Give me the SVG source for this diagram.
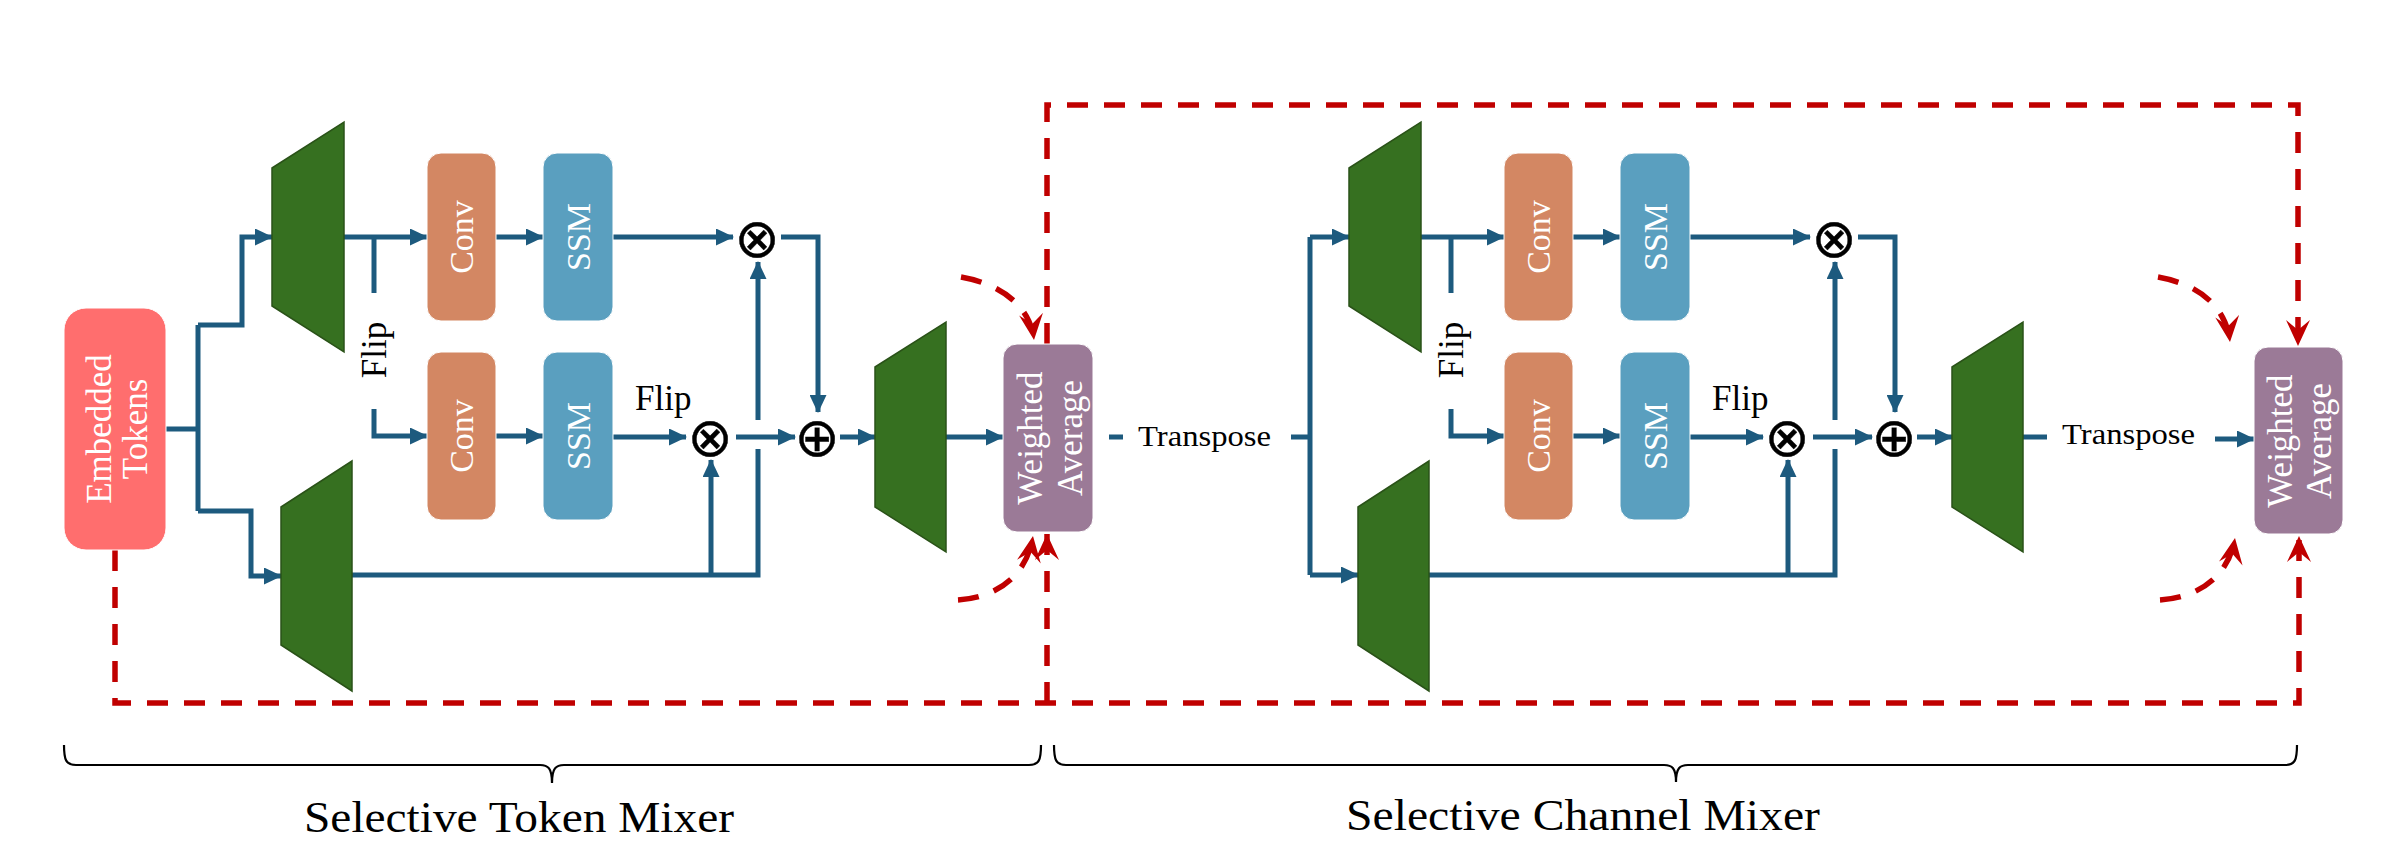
<svg xmlns="http://www.w3.org/2000/svg" width="2384" height="868" viewBox="0 0 2384 868">
<defs>
<marker id="ab" markerUnits="userSpaceOnUse" markerWidth="18" markerHeight="17" viewBox="0 0 18 17" refX="17" refY="8.5" orient="auto"><path d="M0,0 L18,8.5 L0,17 Z" fill="#1D5A7E"/></marker>
<marker id="ar" markerUnits="userSpaceOnUse" markerWidth="26" markerHeight="24" viewBox="0 0 26 24" refX="26" refY="12" orient="auto"><path d="M0,0 L26,12 L0,24 L10,12 Z" fill="#C00000"/></marker>
<style>
.bl{fill:none;stroke:#1D5A7E;stroke-width:5}
.ba{fill:none;stroke:#1D5A7E;stroke-width:5;marker-end:url(#ab)}
.ra{fill:none;stroke:#C00000;stroke-width:5.5;stroke-dasharray:21 16;marker-end:url(#ar)}
.tr{fill:#367020;stroke:#2A5218;stroke-width:1.5}
.bx{stroke:#fff;stroke-width:1}
.wt{fill:#fff;font-family:"Liberation Serif","DejaVu Serif",serif;text-anchor:middle}
.bk{fill:#000;font-family:"Liberation Serif","DejaVu Serif",serif}
.op{fill:#000;stroke:#000;stroke-width:0.4;font-family:"DejaVu Sans",sans-serif;font-size:54px;text-anchor:middle;dominant-baseline:central}
.br{fill:none;stroke:#000;stroke-width:2.2}
</style>
</defs>

<g id="connectors">
<!-- block 1 -->
<path class="bl" d="M166,429 H198 M198,325 V511"/>
<path class="ba" d="M198,325 H242 V237 H272"/>
<path class="ba" d="M198,511 H251 V576 H281"/>
<path class="ba" d="M344,237 H427"/>
<path class="bl" d="M374,237 V293"/>
<path class="ba" d="M374,409 V436 H427"/>
<path class="ba" d="M496,237 H543"/>
<path class="ba" d="M496,436 H543"/>
<path class="ba" d="M613,237 H733"/>
<path class="ba" d="M781,237 H818 V412"/>
<path class="ba" d="M613,437 H686"/>
<path class="ba" d="M736,437 H795"/>
<path class="ba" d="M840,437 H875"/>
<path class="bl" d="M352,575 H758 V449"/>
<path class="ba" d="M758,420 V262"/>
<path class="ba" d="M711,575 V460"/>
<path class="ba" d="M946,437 H1003"/>
<path class="bl" d="M1109,437 H1123 M1291,437 H1310 M1310,237 V575"/>
<!-- block 2 -->
<path class="ba" d="M1310,237 H1349"/>
<path class="ba" d="M1310,575 H1358"/>
<path class="ba" d="M1421,237 H1504"/>
<path class="bl" d="M1451,237 V293"/>
<path class="ba" d="M1451,409 V436 H1504"/>
<path class="ba" d="M1573,237 H1620"/>
<path class="ba" d="M1573,436 H1620"/>
<path class="ba" d="M1690,237 H1810"/>
<path class="ba" d="M1858,237 H1895 V412"/>
<path class="ba" d="M1690,437 H1763"/>
<path class="ba" d="M1813,437 H1872"/>
<path class="ba" d="M1917,437 H1952"/>
<path class="bl" d="M1429,575 H1835 V449"/>
<path class="ba" d="M1835,420 V262"/>
<path class="ba" d="M1788,575 V460"/>
<path class="bl" d="M2023,437 H2047"/>
<path class="ba" d="M2215,439 H2254"/>
<!-- red dashed residual paths -->
<path class="ra" d="M115,550 V703 H2299 V536"/>
<path class="ra" d="M1047,703 V534"/>
<path class="ra" d="M1047,344 V105 H2298 V346"/>
<path class="ra" d="M961,277 C1000,284 1030,305 1034,340"/>
<path class="ra" d="M958,600 C992,598 1026,580 1033,536"/>
<path class="ra" d="M2158,277 C2197,284 2226,305 2230,342"/>
<path class="ra" d="M2160,600 C2194,598 2228,580 2235,538"/>
</g>

<g id="embedded-tokens">
<rect class="bx" x="64" y="308" width="102" height="242" rx="22" fill="#FF6E6E"/>
<text class="wt" font-size="35" transform="translate(111,429) rotate(-90)">Embedded</text>
<text class="wt" font-size="35" transform="translate(147,429) rotate(-90)">Tokens</text>
</g>

<g id="proj-in-top-1"><polygon class="tr" points="272,168 344,122 344,352 272,306"/></g>
<g id="proj-in-bot-1"><polygon class="tr" points="281,507 352,461 352,691 281,645"/></g>
<g id="conv-top-1"><rect class="bx" x="427" y="153" width="69" height="168" rx="14" fill="#D38763"/><text class="wt" font-size="34" transform="translate(473,237) rotate(-90)">Conv</text></g>
<g id="ssm-top-1"><rect class="bx" x="543" y="153" width="70" height="168" rx="14" fill="#5A9FBF"/><text class="wt" font-size="34" transform="translate(590,237) rotate(-90)">SSM</text></g>
<g id="conv-bot-1"><rect class="bx" x="427" y="352" width="69" height="168" rx="14" fill="#D38763"/><text class="wt" font-size="34" transform="translate(473,436) rotate(-90)">Conv</text></g>
<g id="ssm-bot-1"><rect class="bx" x="543" y="352" width="70" height="168" rx="14" fill="#5A9FBF"/><text class="wt" font-size="34" transform="translate(590,436) rotate(-90)">SSM</text></g>
<g id="flip-v-1"><text class="bk" font-size="35" text-anchor="middle" transform="translate(386,350) rotate(-90)">Flip</text></g>
<g id="flip-h-1"><text class="bk" font-size="35" x="635" y="410">Flip</text></g>
<g id="mul-top-1"><text class="op" x="757" y="238">⊗</text></g>
<g id="mul-bot-1"><text class="op" x="710" y="437">⊗</text></g>
<g id="add-1"><text class="op" x="817" y="437">⊕</text></g>
<g id="proj-out-1"><polygon class="tr" points="875,367 946,322 946,552 875,507"/></g>
<g id="weighted-average-1">
<rect class="bx" x="1003" y="344" width="90" height="188" rx="14" fill="#9B7A97"/>
<text class="wt" font-size="35" transform="translate(1042,438) rotate(-90)">Weighted</text>
<text class="wt" font-size="35" transform="translate(1082,438) rotate(-90)">Average</text>
</g>
<g id="transpose-1"><text class="bk" font-size="30" x="1138" y="446" textLength="133" lengthAdjust="spacingAndGlyphs">Transpose</text></g>

<g id="proj-in-top-2"><polygon class="tr" points="1349,168 1421,122 1421,352 1349,306"/></g>
<g id="proj-in-bot-2"><polygon class="tr" points="1358,507 1429,461 1429,691 1358,645"/></g>
<g id="conv-top-2"><rect class="bx" x="1504" y="153" width="69" height="168" rx="14" fill="#D38763"/><text class="wt" font-size="34" transform="translate(1550,237) rotate(-90)">Conv</text></g>
<g id="ssm-top-2"><rect class="bx" x="1620" y="153" width="70" height="168" rx="14" fill="#5A9FBF"/><text class="wt" font-size="34" transform="translate(1667,237) rotate(-90)">SSM</text></g>
<g id="conv-bot-2"><rect class="bx" x="1504" y="352" width="69" height="168" rx="14" fill="#D38763"/><text class="wt" font-size="34" transform="translate(1550,436) rotate(-90)">Conv</text></g>
<g id="ssm-bot-2"><rect class="bx" x="1620" y="352" width="70" height="168" rx="14" fill="#5A9FBF"/><text class="wt" font-size="34" transform="translate(1667,436) rotate(-90)">SSM</text></g>
<g id="flip-v-2"><text class="bk" font-size="35" text-anchor="middle" transform="translate(1463,350) rotate(-90)">Flip</text></g>
<g id="flip-h-2"><text class="bk" font-size="35" x="1712" y="410">Flip</text></g>
<g id="mul-top-2"><text class="op" x="1834" y="238">⊗</text></g>
<g id="mul-bot-2"><text class="op" x="1787" y="437">⊗</text></g>
<g id="add-2"><text class="op" x="1894" y="437">⊕</text></g>
<g id="proj-out-2"><polygon class="tr" points="1952,367 2023,322 2023,552 1952,507"/></g>
<g id="transpose-2"><text class="bk" font-size="30" x="2062" y="444" textLength="133" lengthAdjust="spacingAndGlyphs">Transpose</text></g>
<g id="weighted-average-2">
<rect class="bx" x="2254" y="347" width="89" height="187" rx="14" fill="#9B7A97"/>
<text class="wt" font-size="35" transform="translate(2292,441) rotate(-90)">Weighted</text>
<text class="wt" font-size="35" transform="translate(2331,441) rotate(-90)">Average</text>
</g>

<g id="brace-token">
<path class="br" d="M64,745 C64,760 66,765 76,765 L540,765 C548,765 552,768 552,783 C552,768 556,765 564,765 L1029,765 C1039,765 1041,760 1041,745"/>
<text class="bk" font-size="44" x="304" y="832" textLength="430" lengthAdjust="spacingAndGlyphs">Selective Token Mixer</text>
</g>
<g id="brace-channel">
<path class="br" d="M1054,745 C1054,760 1056,765 1066,765 L1664,765 C1672,765 1676,768 1676,782 C1676,768 1680,765 1688,765 L2285,765 C2295,765 2297,760 2297,745"/>
<text class="bk" font-size="44" x="1346" y="830" textLength="474" lengthAdjust="spacingAndGlyphs">Selective Channel Mixer</text>
</g>
</svg>
